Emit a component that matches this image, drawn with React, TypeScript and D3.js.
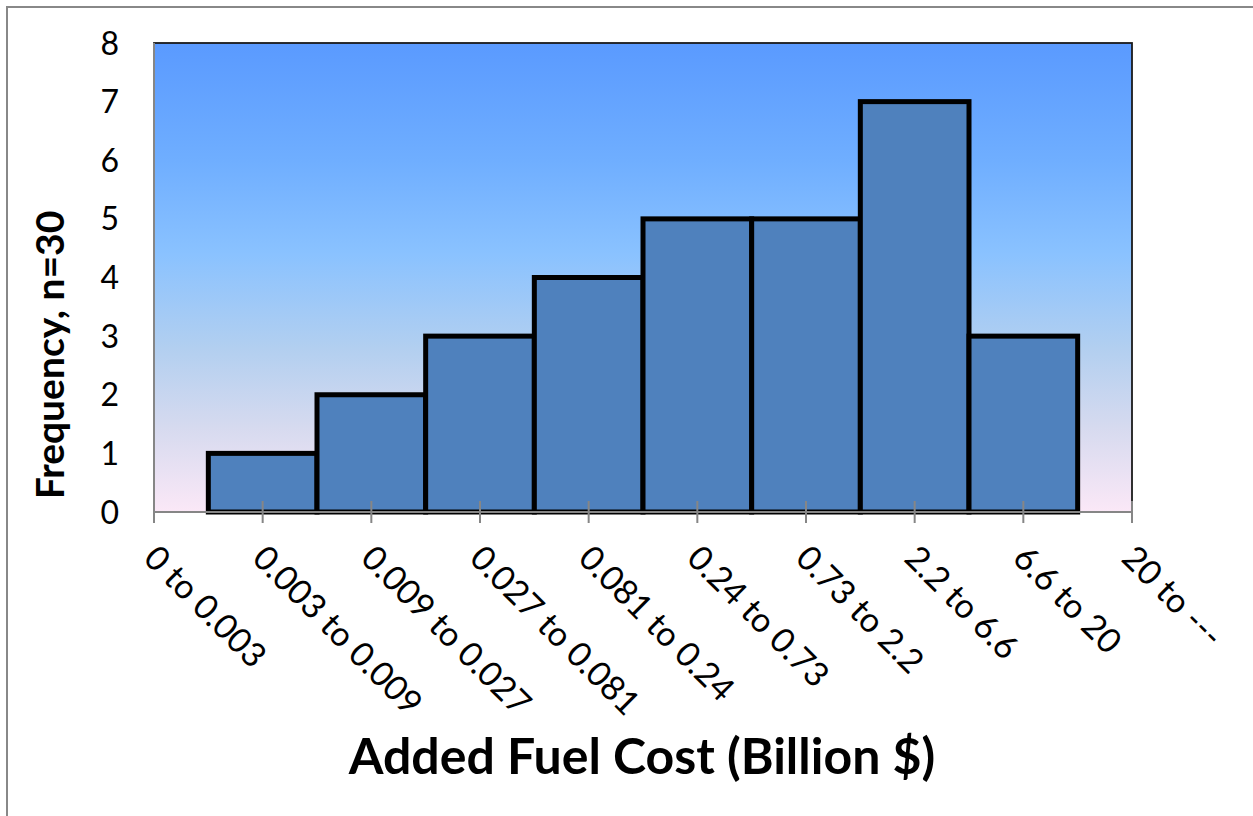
import React from "react";
import * as d3 from "d3";

const categories = [
  "0 to 0.003",
  "0.003 to 0.009",
  "0.009 to 0.027",
  "0.027 to 0.081",
  "0.081 to 0.24",
  "0.24 to 0.73",
  "0.73 to 2.2",
  "2.2 to 6.6",
  "6.6 to 20",
  "20 to ---",
];
const frequencies = [1, 2, 3, 4, 5, 5, 7, 3];
const yTicks = [0, 1, 2, 3, 4, 5, 6, 7, 8];

const W = 1253;
const H = 816;
const plot = { left: 154, right: 1132, top: 43, bottom: 512 };
const FONT = "Lato, 'Open Sans', sans-serif";

export default function App() {
  const x = d3.scaleLinear().domain([0, categories.length - 1]).range([plot.left, plot.right]);
  const y = d3.scaleLinear().domain([0, 8]).range([plot.bottom, plot.top]);

  return (
    <svg
      width={W}
      height={H}
      style={{ position: "absolute", left: 0, top: 0, background: "#fff" }}
      fontFamily={FONT}
    >
      <defs>
        <linearGradient id="bg" x1="0" y1="0" x2="0" y2="1">
          <stop offset="0" stopColor="#5A9AFF" />
          <stop offset="0.25" stopColor="#6FAEFF" />
          <stop offset="0.45" stopColor="#8AC2FF" />
          <stop offset="0.65" stopColor="#B2CFF0" />
          <stop offset="0.82" stopColor="#D6DAEF" />
          <stop offset="1" stopColor="#FBE8F7" />
        </linearGradient>
      </defs>
      {/* outer chart border */}
      <rect x={7} y={7} width={W + 20} height={H + 20} fill="none" stroke="#888" strokeWidth={2} />

      {/* plot area */}
      <rect
        x={plot.left}
        y={plot.top}
        width={plot.right - plot.left}
        height={plot.bottom - plot.top}
        fill="url(#bg)"
        stroke="#1a1a1a"
        strokeWidth={1.8}
      />

      {/* bars */}
      {frequencies.map((f, i) => (
        <rect
          key={i}
          x={x(i + 0.5)}
          y={y(f)}
          width={x(i + 1.5) - x(i + 0.5)}
          height={y(0) - y(f)}
          fill="#4F81BD"
          stroke="#000"
          strokeWidth={5}
        />
      ))}

      {/* axes */}
      <line x1={plot.left} x2={plot.left} y1={plot.top} y2={plot.bottom} stroke="#868686" strokeWidth={2} />
      <line x1={plot.left} x2={plot.right} y1={plot.bottom} y2={plot.bottom} stroke="#868686" strokeWidth={2} />
      {categories.map((c, i) => (
        <line key={c} x1={x(i)} x2={x(i)} y1={plot.bottom - 11} y2={plot.bottom + 11} stroke="#868686" strokeWidth={2} />
      ))}

      {/* y tick labels */}
      {yTicks.map((t) => (
        <text key={t} x={119} y={y(t)} dy="0.36em" textAnchor="end" fontSize={32} fill="#000">
          {t}
        </text>
      ))}

      {/* x labels */}
      {categories.map((c, i) => (
        <text
          key={c}
          transform={`translate(${x(i) + 6},${542}) rotate(45)`}
          dy="0.75em"
          textAnchor="start"
          fontSize={34}
          fill="#000"
        >
          {c}
        </text>
      ))}

      {/* axis titles */}
      <text x={642} y={774} textAnchor="middle" fontSize={50} fontWeight="bold" fill="#000">
        Added Fuel Cost (Billion $)
      </text>
      <text
        transform={`translate(64,${355}) rotate(-90)`}
        textAnchor="middle"
        fontSize={39}
        fontWeight="bold"
        fill="#000"
      >
        Frequency, n=30
      </text>
    </svg>
  );
}
